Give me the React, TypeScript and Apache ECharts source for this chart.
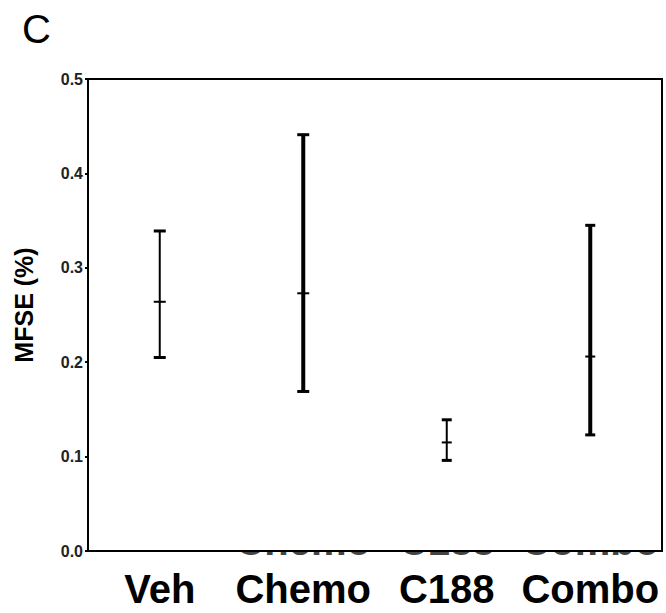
import React, { useEffect, useRef } from "react";
import * as echarts from "echarts";

const categories = ["Veh", "Chemo", "C188", "Combo"];
const means = [0.264, 0.273, 0.115, 0.206];
const upper = [0.339, 0.441, 0.139, 0.345];
const lower = [0.205, 0.169, 0.096, 0.123];
const remnantLabels = ["Chemo", "C188", "Combo"];
const panelLetter = "C";
const yAxisTitle = "MFSE (%)";
const yMin = 0;
const yMax = 0.5;

// styles (not data)
const stemWidths = [2, 4, 2, 4];
const capHalf = [6, 6, 5, 5];
const FONT = "Liberation Sans, Arial, sans-serif";

export default function App() {
  const ref = useRef<HTMLDivElement>(null);
  useEffect(() => {
    const chart = echarts.init(ref.current!, null, { renderer: "svg" });
    const data = categories.map((c, i) => [i, means[i], upper[i], lower[i]]);
    const lineStyle = { color: "#000", width: 2 };
    chart.setOption({
      animation: false,
      backgroundColor: "#fff",
      grid: { left: 88, right: 4, top: 79, bottom: 62 },
      xAxis: {
        type: "category",
        data: categories,
        z: 10,
        axisLine: { show: true, onZero: false, lineStyle },
        axisTick: { show: false },
        axisLabel: {
          interval: 0,
          color: "#000",
          fontFamily: FONT,
          fontWeight: "bold",
          fontSize: 40,
          margin: 18,
        },
        splitLine: { show: false },
      },
      yAxis: {
        type: "value",
        min: yMin,
        max: yMax,
        interval: 0.1,
        z: 10,
        name: yAxisTitle,
        nameLocation: "middle",
        nameRotate: 90,
        nameGap: 52,
        nameTextStyle: {
          color: "#000",
          fontFamily: FONT,
          fontWeight: "bold",
          fontSize: 25,
          padding: [0, 0, 0, 20],
        },
        axisLine: { show: true, onZero: false, lineStyle },
        axisTick: { show: true, length: 3, lineStyle },
        axisLabel: {
          color: "#222",
          fontFamily: FONT,
          fontWeight: "bold",
          fontSize: 16,
          margin: 5,
          formatter: (v: number) => v.toFixed(1),
        },
        splitLine: { show: false },
      },
      series: [
        {
          type: "custom",
          z: 5,
          data,
          renderItem: (params: any, api: any) => {
            const i = api.value(0);
            const top = api.coord([i, api.value(2)]);
            const mid = api.coord([i, api.value(1)]);
            const bot = api.coord([i, api.value(3)]);
            const x = top[0];
            const w = stemWidths[i];
            const h = capHalf[i];
            const st = { stroke: "#000", lineWidth: w };
            const cap = { stroke: "#000", lineWidth: 3 };
            return {
              type: "group",
              children: [
                { type: "line", shape: { x1: x, y1: top[1], x2: x, y2: bot[1] }, style: st },
                { type: "line", shape: { x1: x - h, y1: top[1], x2: x + h, y2: top[1] }, style: cap },
                { type: "line", shape: { x1: x - h, y1: bot[1], x2: x + h, y2: bot[1] }, style: cap },
                { type: "line", shape: { x1: x - h, y1: mid[1], x2: x + h, y2: mid[1] }, style: { stroke: "#000", lineWidth: 2 } },
              ],
            };
          },
        },
      ],
    });

    const y0 = chart.convertToPixel({ yAxisIndex: 0 }, yMin) as number;
    const y1 = chart.convertToPixel({ yAxisIndex: 0 }, yMax) as number;
    const c0 = chart.convertToPixel({ xAxisIndex: 0 }, 0) as number;
    const c1 = chart.convertToPixel({ xAxisIndex: 0 }, 1) as number;
    const band = c1 - c0;
    const xL = c0 - band / 2;
    const xR = c0 + band * (categories.length - 0.5);
    const letter = {
      type: "text",
      left: 22,
      top: 9,
      style: { text: panelLetter, fontFamily: FONT, fontSize: 40, fill: "#000" },
    };
    // remnant (clipped) label fragments just below the axis
    const remn: any[] = remnantLabels.map((lab) => {
      const idx = categories.indexOf(lab);
      const px = chart.convertToPixel({ xAxisIndex: 0 }, idx) as number;
      return {
        type: "text",
        x: px,
        y: y0 - 10,
        z: 1,
        style: {
          text: lab,
          fontFamily: FONT,
          fontWeight: "bold",
          fontSize: 40,
          fill: "#444",
          align: "center",
          verticalAlign: "middle",
        },
      };
    });
    remn.push({
      type: "rect",
      z: 2,
      shape: { x: xL + 2, y: y0 - 60, width: xR - xL - 4, height: 60 },
      style: { fill: "#fff" },
    });
    remn.push({
      type: "rect",
      z: 30,
      shape: { x: xL, y: y1, width: xR - xL, height: y0 - y1 },
      style: { fill: "none", stroke: "#000", lineWidth: 2 },
    });
    chart.setOption({ graphic: [letter, ...remn] });

    return () => chart.dispose();
  }, []);
  return <div ref={ref} style={{ width: 666, height: 613, position: "absolute", left: 0, top: 0 }} />;
}
